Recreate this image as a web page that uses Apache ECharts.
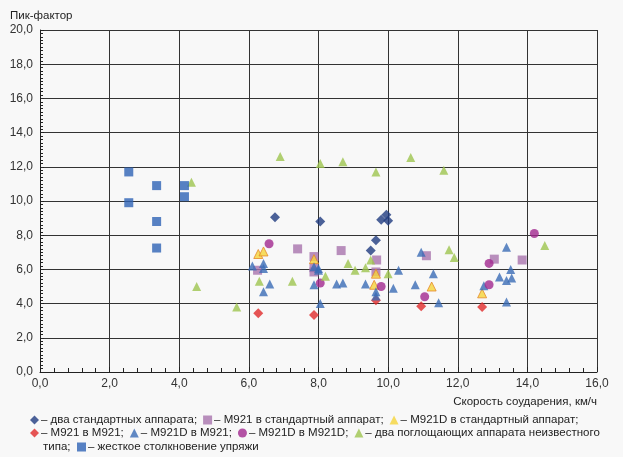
<!DOCTYPE html>
<html lang="ru">
<head>
    <meta charset="UTF-8">
    <title>Пик-фактор</title>
    <script src="https://cdn.jsdelivr.net/npm/echarts@6/dist/echarts.min.js"></script>
    <style>
        html, body { margin: 0; padding: 0; background: #f8f8f8; }
        #chart { width: 623px; height: 457px; }
    </style>
</head>
<body>
<div id="chart"></div>
<script>
    // [скорость, пик-фактор]
    const dvaStandartnyh = [[6.75, 9.05], [8.05, 8.8], [9.95, 9.2], [9.8, 8.9], [10.0, 8.85], [9.65, 7.7], [9.5, 7.1]];
    const m921vStandart = [[7.4, 7.2], [7.87, 6.75], [6.25, 5.95], [7.87, 6.1], [7.87, 5.85], [8.65, 7.1], [9.67, 6.55], [9.65, 5.85], [11.1, 6.8], [13.05, 6.6], [13.85, 6.55]];
    const m921dvStandart = [[6.27, 6.9], [6.42, 7.05], [7.87, 6.6], [9.65, 5.75], [9.6, 5.1], [11.25, 5.0], [12.7, 4.6]];
    const m921vM921 = [[6.27, 3.43], [7.87, 3.33], [9.65, 4.2], [10.95, 3.85], [12.7, 3.8]];
    const m921dvM921 = [[6.1, 6.2], [6.42, 6.35], [6.42, 6.05], [6.6, 5.15], [6.42, 4.7], [7.87, 6.15], [8.0, 5.95], [8.0, 6.05],
        [7.87, 5.1], [8.05, 4.0], [8.52, 5.15], [8.7, 5.2], [9.35, 5.15], [9.65, 4.7], [9.65, 4.45], [10.15, 4.9], [10.3, 5.95],
        [10.78, 5.1], [10.95, 7.0], [11.3, 5.75], [11.45, 4.05], [12.75, 5.05], [13.2, 5.55], [13.4, 5.35], [13.55, 5.5],
        [13.52, 6.0], [13.4, 7.3], [13.4, 4.1]];
    const m921dvM921d = [[6.58, 7.5], [8.05, 5.2], [9.8, 5.0], [11.05, 4.4], [12.9, 6.35], [12.9, 5.1], [14.2, 8.1]];
    const neizvestnyi = [[4.35, 11.1], [4.5, 5.0], [5.65, 3.8], [6.9, 12.6], [8.05, 12.2], [8.7, 12.3], [9.65, 11.7], [10.65, 12.55],
        [11.6, 11.8], [6.3, 5.3], [7.25, 5.3], [8.2, 5.6], [8.85, 6.35], [9.05, 5.95], [9.35, 6.1], [9.5, 6.55], [10.0, 5.75],
        [11.75, 7.15], [11.9, 6.7], [14.5, 7.4]];
    const zhestkoe = [[2.55, 11.7], [3.35, 10.9], [4.15, 10.9], [4.15, 10.25], [2.55, 9.9], [3.35, 8.8], [3.35, 7.25]];

    const names = ['два стандартных аппарата', 'M921 в стандартный аппарат', 'M921D в стандартный аппарат',
        'M921 в M921', 'M921D в M921', 'M921D в M921D', 'два поглощающих аппарата неизвестного типа',
        'жесткое столкновение упряжи'];

    const font = 'Liberation Sans, Arial, sans-serif';
    const fmt = v => v.toFixed(1).replace('.', ',');

    function sc(name, data, symbol, size, style) {
        return { name: name, type: 'scatter', data: data, symbol: symbol, symbolSize: size, itemStyle: style };
    }

    const chart = echarts.init(document.getElementById('chart'));
    const legendBase = {
        orient: 'horizontal', itemGap: 6, itemWidth: 9, itemHeight: 9, padding: 0,
        itemStyle: { borderWidth: 0 },
        textStyle: { fontFamily: font, fontSize: 11.5, color: '#222', padding: [0, 0, 0, -3] },
        selectedMode: false
    };
    chart.setOption({
        backgroundColor: '#f8f8f8',
        animation: false,
        grid: { left: 40, right: 26, top: 30, bottom: 85 },
        xAxis: {
            type: 'value', min: 0, max: 16, interval: 2,
            name: 'Скорость соударения, км/ч', nameLocation: 'end',
            nameGap: 0,
            nameTextStyle: { fontFamily: font, fontSize: 11.5, color: '#222', align: 'right', verticalAlign: 'top', padding: [24, 0, 0, 0] },
            axisLine: { lineStyle: { color: '#222', width: 1 } },
            axisTick: { show: true, inside: true, length: 5, lineStyle: { color: '#222' } },
            minorTick: { show: true, splitNumber: 5, length: 4, lineStyle: { color: '#222' } },
            axisLabel: { formatter: fmt, fontFamily: font, fontSize: 12, color: '#333', margin: 6 },
            splitLine: { show: true, lineStyle: { color: '#333', width: 1 } }
        },
        yAxis: {
            type: 'value', min: 0, max: 20, interval: 2,
            name: 'Пик-фактор', nameLocation: 'end', nameGap: 8,
            nameTextStyle: { fontFamily: font, fontSize: 11.5, color: '#222', align: 'left', padding: [0, 0, 0, -30] },
            axisLine: { show: true, lineStyle: { color: '#222', width: 1 } },
            axisTick: { show: true, inside: true, length: 4, lineStyle: { color: '#222' } },
            minorTick: { show: true, splitNumber: 10, length: 3, lineStyle: { color: '#222' } },
            axisLabel: { formatter: fmt, fontFamily: font, fontSize: 12, color: '#333', margin: 7 },
            splitLine: { show: true, lineStyle: { color: '#333', width: 1 } }
        },
        legend: [
            Object.assign({}, legendBase, { left: 30, top: 414, data: names.slice(0, 3),
                formatter: n => '– ' + n + ';' }),
            Object.assign({}, legendBase, { left: 30, top: 427, data: names.slice(3, 7),
                formatter: n => n === names[6] ? '– два поглощающих аппарата неизвестного' : '– ' + n + ';' }),
            Object.assign({}, legendBase, { left: 77, top: 441, data: names.slice(7),
                formatter: n => '– ' + n })
        ],
        graphic: [{
            type: 'text', left: 43, top: 441,
            style: { text: 'типа;', font: '11.5px ' + font, fill: '#222' }
        }],
        series: [
            sc(names[0], dvaStandartnyh, 'diamond', 10, { color: '#1f3b80' }),
            sc(names[1], m921vStandart, 'rect', 9, { color: '#a773ad' }),
            sc(names[2], m921dvStandart, 'triangle', 9, { color: '#f5d53a', borderColor: '#e5882a', borderWidth: 1 }),
            sc(names[3], m921vM921, 'diamond', 10, { color: '#e02b2b' }),
            sc(names[4], m921dvM921, 'triangle', 9, { color: '#3a6cb5' }),
            sc(names[5], m921dvM921d, 'circle', 9, { color: '#a1288e' }),
            sc(names[6], neizvestnyi, 'triangle', 9, { color: '#9dc44f' }),
            sc(names[7], zhestkoe, 'rect', 9, { color: '#2e63b5' })
        ]
    });
</script>
</body>
</html>
